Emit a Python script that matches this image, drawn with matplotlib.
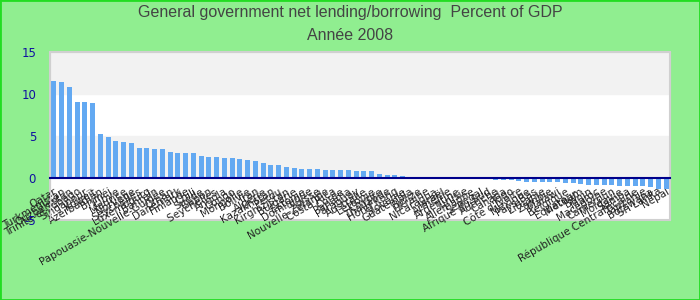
import matplotlib.pyplot as plt
from matplotlib.patches import Rectangle

plt.rcParams['axes.unicode_minus'] = False

pays = ["Qatar", "Turkménistan", "Ouzbékistan", "Trinité-et-Tobago", "Singapour", "Koweït",
        "Azerbaïdjan", "Brunéi", "Libye", "Maurice", "Norvège", "Seychelles", "Luxembourg",
        "Bahreïn", "Papouasie-Nouvelle-Guinée", "Oman", "Danemark", "Finlande", "Chili",
        "Suède", "Gabon", "Seychelles ", "Angola", "Congo", "Mongolie", "Bolivie", "Iran",
        "Algérie", "Kazakhstan", "Pérou", "Kirghizistan", "Bulgarie", "Estonie", "Dominique",
        "Suisse", "Nouvelle-Zélande", "Costa Rica", "Corée", "Panama", "Paraguay", "Australie",
        "Lettonie", "Chypre", "Thaïlande", "Hong Kong", "Slovénie", "Guatemala", "Belize",
        "Ukraine", "Nicaragua", "Israël", "Arménie", "Argentine", "Tunisie", "Allemagne",
        "Sénégal", "Afrique du Sud", "Autriche", "Canada", "Togo", "Côte d'Ivoire", "Mexique",
        "Pays-Bas", "Lituanie", "Zambie", "Malawi", "Belgique", "Équateur", "Vietnam",
        "Bénin", "Maroc", "Macédoine", "Cameroun", "Moldavie", "Samoa",
        "République Centrafricaine", "Tanzanie", "Botswana", "Sri Lanka", "Népal"]

valeurs = [11.5, 11.4, 10.8, 9.1, 9.0, 8.9, 5.2, 4.85, 4.4, 4.3,
           4.2, 3.55, 3.55, 3.4, 3.4, 3.05, 2.95, 2.95, 2.95, 2.6,
           2.5, 2.5, 2.4, 2.4, 2.25, 2.15, 2.0, 1.75, 1.5, 1.5,
           1.3, 1.15, 1.05, 1.05, 1.05, 0.95, 0.95, 0.95, 0.95, 0.87,
           0.87, 0.87, 0.52, 0.4, 0.4, 0.28, 0.16, 0.16, 0.16, 0.16,
           0.16, 0.04, 0.02, 0.0, -0.02, -0.05, -0.12, -0.28, -0.28, -0.28,
           -0.4, -0.52, -0.52, -0.52, -0.52, -0.52, -0.63, -0.63, -0.75, -0.87,
           -0.87, -0.87, -0.87, -1.0, -1.0, -1.0, -1.0, -1.1, -1.3, -1.35]

fig = plt.figure(figsize=(7, 3), dpi=100, facecolor='#90ee90')
fig.patches.append(Rectangle((0, 0), 1, 1, transform=fig.transFigure, fill=False,
                             edgecolor='#22dd22', linewidth=2))
ax = fig.add_axes([50 / 700, 80 / 300, 620 / 700, 168 / 300])
ax.set_facecolor('white')

# axe des x sur la ligne du zéro (avant de poser les étiquettes, sinon reset)
ax.spines['bottom'].set_position(('data', 0))
ax.spines['bottom'].set_color('#00008b')
ax.spines['bottom'].set_linewidth(1.5)
ax.spines['bottom'].set_zorder(3)
for s in ['left', 'right', 'top']:
    ax.spines[s].set_color('#d0d0d0')

ax.axhspan(10, 15, color='#f2f2f2', zorder=0)
ax.axhspan(0, 5, color='#f2f2f2', zorder=0)

x = list(range(len(valeurs)))
ax.bar(x, valeurs, width=0.65, color='#63a9f2', zorder=2)

ax.set_xlim(-0.5, len(valeurs) - 0.5)
ax.set_ylim(-5, 15)
ax.set_yticks([-5, 0, 5, 10, 15])
ax.tick_params(axis='y', length=0, pad=10, labelsize=8.5, labelcolor='#1010a0')
ax.set_xticks(x)
ax.set_xticklabels(pays, rotation=30, ha='right', rotation_mode='anchor', fontsize=7.5,
                   color='#222222')
ax.tick_params(axis='x', length=0, pad=6)

ax.add_patch(Rectangle((0, 0), 1, 1, transform=ax.transAxes, fill=False,
                       edgecolor='#d0d0d0', linewidth=1.5, clip_on=False, zorder=1))

titre_font = ['Liberation Sans Narrow', 'Liberation Sans', 'DejaVu Sans']
fig.text(0.5, 1 - 13 / 300, "General government net lending/borrowing  Percent of GDP",
         ha='center', va='center', fontsize=11.5, color='#444444', family=titre_font)
fig.text(0.5, 1 - 36 / 300, "Année 2008", ha='center', va='center', fontsize=11.5,
         color='#444444', family=titre_font)

fig.savefig('out.png', dpi=100, facecolor=fig.get_facecolor())
